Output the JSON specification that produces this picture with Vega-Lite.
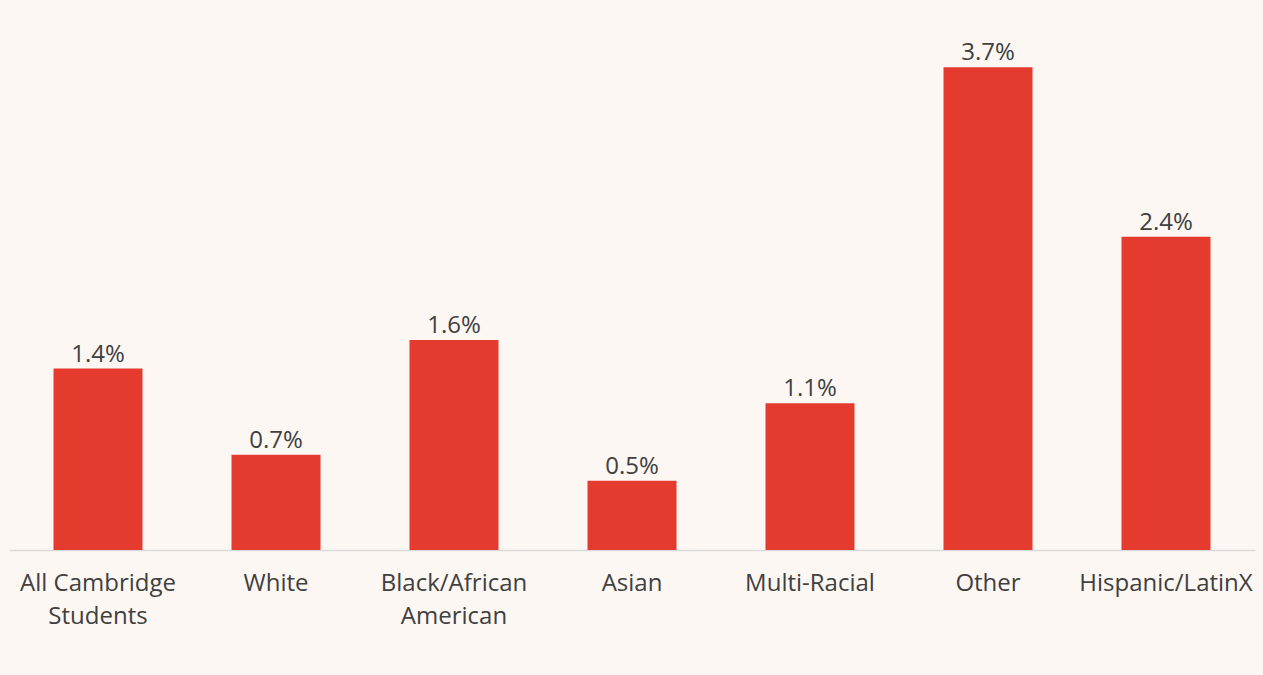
{
  "$schema": "https://vega.github.io/schema/vega-lite/v6.json",
  "width": 1246,
  "height": 522,
  "padding": {"left": 9, "top": 28, "right": 8, "bottom": 125},
  "autosize": {"type": "none"},
  "background": "#FCF7F3",
  "config": {"view": {"stroke": null}},
  "data": {
    "values": [
      {"group": "All Cambridge Students", "rate": 0.0139},
      {"group": "White", "rate": 0.0073},
      {"group": "Black/African American", "rate": 0.0161},
      {"group": "Asian", "rate": 0.0053},
      {"group": "Multi-Racial", "rate": 0.01125},
      {"group": "Other", "rate": 0.037},
      {"group": "Hispanic/LatinX", "rate": 0.024}
    ]
  },
  "encoding": {
    "x": {
      "field": "group",
      "type": "nominal",
      "sort": null,
      "scale": {"paddingInner": 0.5, "paddingOuter": 0.25},
      "axis": {
        "title": null,
        "labelAngle": 0,
        "ticks": false,
        "domainColor": "#D9D9D9",
        "domainWidth": 1.5,
        "labelFont": "Open Sans",
        "labelFontSize": 24,
        "labelColor": "#404040",
        "labelPadding": 21,
        "labelLineHeight": 33,
        "labelBaseline": "top",
        "labelExpr": "datum.value == 'All Cambridge Students' ? ['All Cambridge', 'Students'] : datum.value == 'Black/African American' ? ['Black/African', 'American'] : datum.value"
      }
    },
    "y": {
      "field": "rate",
      "type": "quantitative",
      "scale": {"domain": [0, 0.04], "nice": false},
      "axis": null
    }
  },
  "layer": [
    {"mark": {"type": "bar", "color": "#E53B2E"}},
    {
      "mark": {
        "type": "text",
        "baseline": "alphabetic",
        "dy": -7,
        "font": "Open Sans",
        "fontSize": 24,
        "color": "#404040"
      },
      "encoding": {"text": {"field": "rate", "type": "quantitative", "format": ".1%"}}
    }
  ]
}
